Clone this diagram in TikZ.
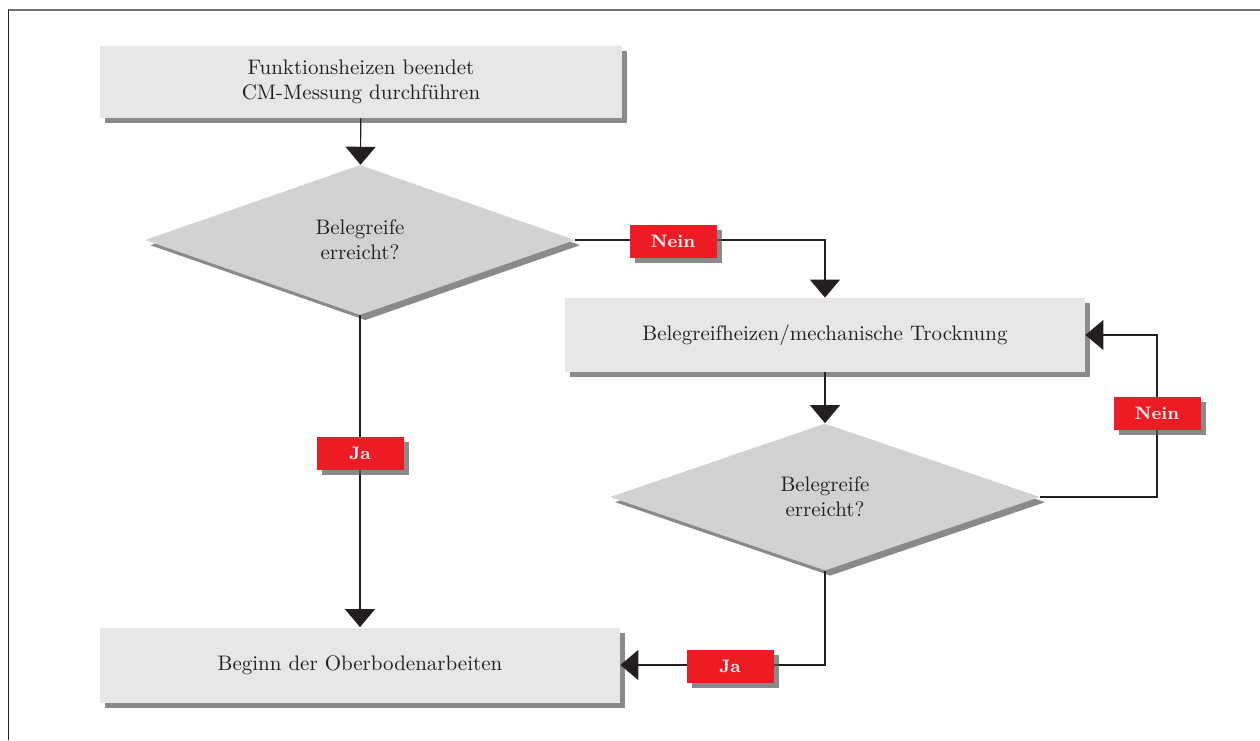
\documentclass[tikz,border=0pt]{standalone}
\usepackage{tikz}
\usetikzlibrary{positioning, arrows.meta, shapes.geometric, shadows}
\definecolor{boxGrey}{HTML}{E6E7E8}
\definecolor{diaGrey}{HTML}{D1D2D4}
\definecolor{ink}{HTML}{231F20}
\definecolor{tagRed}{HTML}{ED1C24}
\tikzset{
  every node/.style={font=\fontsize{10.5}{12.5}\selectfont, text=ink},
  arr/.style={-{Triangle[width=15pt, length=9pt]}, line width=0.6pt, draw=ink},
  shade/.style={drop shadow={shadow xshift=2.6pt, shadow yshift=-2.6pt, fill=black!65, opacity=.7}},
  stepbox/.style={rectangle, fill=boxGrey, shade, minimum width=260pt, minimum height=36pt,
                  inner sep=0pt, align=center},
  query/.style={diamond, fill=diaGrey, shade, minimum width=215pt, minimum height=75pt,
                inner sep=0pt, align=center},
  tag/.style={rectangle, fill=tagRed, shade, minimum width=43.5pt, minimum height=16.5pt,
              inner sep=0pt, font=\small\bfseries, text=white},
}

\begin{document}
\begin{tikzpicture}[x=0.5pt, y=-0.5pt]
  \useasboundingbox (0,0) rectangle (1260,740);
  % frame
  \draw[black!55, line width=1.1pt] (8,10) -- (1260,10);
  \draw[ink, line width=0.4pt] (8,10) -- (8,740);
  % steps and questions
  \node[stepbox, minimum width=261pt] (heizen) at (361,82) {Funktionsheizen beendet\\CM-Messung durchführen};
  \node[query] (reif1) at (360,240) {Belegreife\\erreicht?};
  \node[stepbox, minimum height=37pt] (trocken) at (825,335) {Belegreifheizen/mechanische Trocknung};
  \node[query, minimum height=73.5pt] (reif2) at (825,497) {Belegreife\\erreicht?};
  \node[stepbox, minimum height=37.5pt] (oberboden) at (360,665) {Beginn der Oberbodenarbeiten};
  \coordinate (loop) at (1157,335);
  % connectors
  \draw[arr] (heizen) -- (reif1);
  \draw[arr] (reif1.east) -| (trocken.north);
  \draw[arr] (trocken) -- (reif2);
  \draw[arr] (reif2.east) -| (loop) -- (trocken.east);
  \draw[arr] (reif1.south) -- (reif1.south |- oberboden.north);
  \draw[arr] (reif2.south) |- (oberboden.east);
  % answers
  \node[tag] (nein1) at (673,241) {Nein};
  \node[tag] (nein2) at (loop |- 0,413) {Nein};
  \node[tag] (ja1) at (360,453) {Ja};
  \node[tag] (ja2) at (730,666) {Ja};
\end{tikzpicture}
\end{document}
